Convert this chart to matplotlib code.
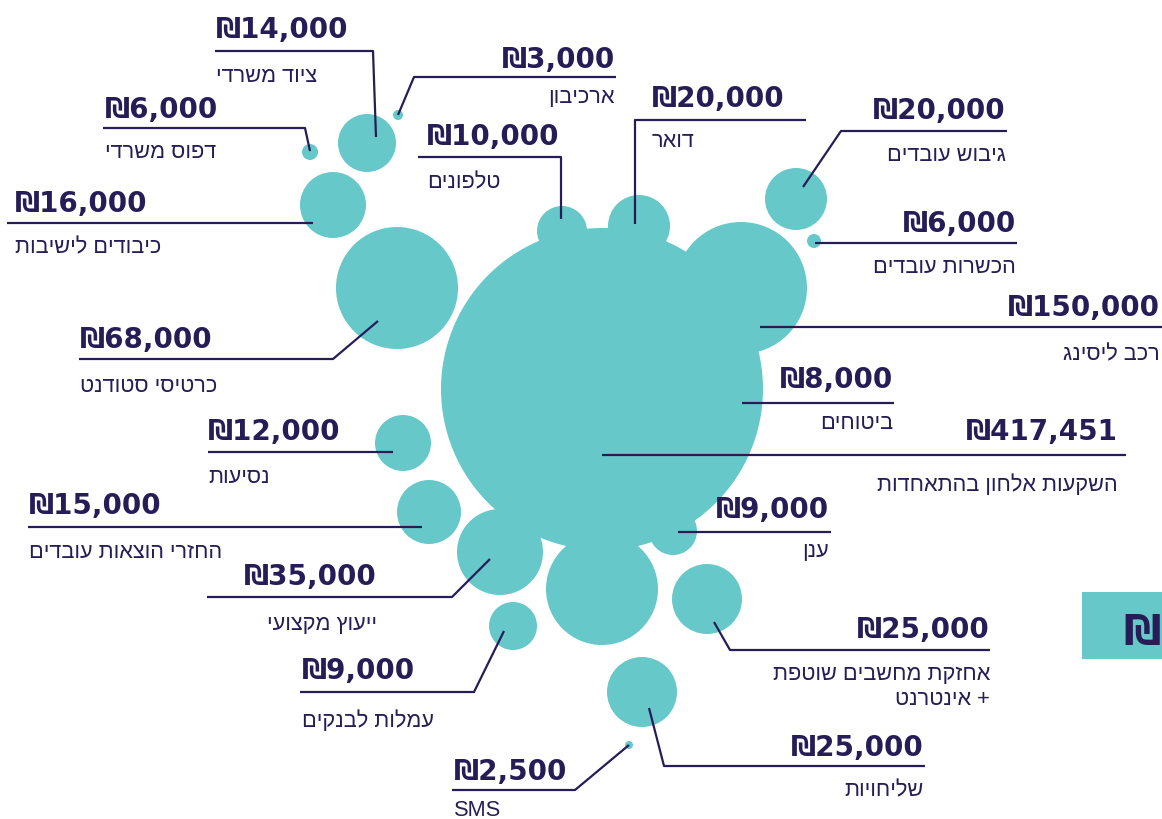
"""Bubble chart: annual expense breakdown (Hebrew labels, hand-placed layout)."""
import matplotlib
matplotlib.use("Agg")
import matplotlib.pyplot as plt
from matplotlib.patches import Circle, Rectangle

# ---- data -------------------------------------------------------------
categories = [
    "ציוד משרדי", "דפוס משרדי", "כיבודים לישיבות", "ארכיבון", "טלפונים",
    "דואר", "גיבוש עובדים", "הכשרות עובדים", "רכב ליסינג", "כרטיסי סטודנט",
    "ביטוחים", "השקעות אלחון בהתאחדות", "נסיעות", "החזרי הוצאות עובדים", "ענן",
    "ייעוץ מקצועי", "אחזקת מחשבים שוטפת\n+ אינטרנט", "עמלות לבנקים",
    "שליחויות", "SMS",
]
amounts = [
    14000, 6000, 16000, 3000, 10000,
    20000, 20000, 6000, 150000, 68000,
    8000, 417451, 12000, 15000, 9000,
    35000, 25000, 9000, 25000, 2500,
]

# ---- layout (pixels, hand-placed like the original infographic) ------
bubble_xy = [
    (367, 144), (310, 153), (333, 206), (398, 116), (562, 232),
    (639, 227), (796, 200), (814, 242), (741, 289), (397, 289),
    (729, 399), (602, 390), (403, 444), (429, 513), (673, 532),
    (500, 553), (707, 600), (513, 627), (642, 693), (629, 746),
]
bubble_r = [29, 8, 33, 5, 25, 31, 31, 7, 66, 61,
            23, 161, 28, 32, 24, 43, 35, 24, 35, 4]
leaders = [
    [(215, 52), (373, 52), (376, 138)],
    [(103, 129), (305, 129), (310, 152)],
    [(7, 224), (313, 224)],
    [(398, 116), (414, 78), (616, 78)],
    [(418, 158), (561, 158), (561, 220)],
    [(806, 121), (635, 121), (635, 225)],
    [(803, 188), (841, 132), (1007, 132)],
    [(815, 244), (1017, 244)],
    [(760, 328), (1162, 328)],
    [(79, 360), (333, 360), (378, 322)],
    [(742, 404), (894, 404)],
    [(602, 456), (1126, 456)],
    [(208, 453), (393, 453)],
    [(28, 528), (422, 528)],
    [(678, 533), (831, 533)],
    [(207, 598), (452, 598), (490, 560)],
    [(714, 623), (730, 651), (990, 651)],
    [(300, 693), (474, 693), (504, 632)],
    [(649, 709), (664, 767), (925, 767)],
    [(629, 746), (575, 791), (452, 791)],
]
# text anchor x, alignment, baseline of amount, baseline of category
text_x = [216, 105, 15, 615, 427, 652, 1006, 1016, 1160, 80,
          893, 1118, 208, 29, 829, 377, 990, 302, 924, 454]
text_ha = ["left", "left", "left", "right", "left", "left", "right", "right",
           "right", "left", "right", "right", "left", "left", "right", "right",
           "right", "left", "right", "left"]
amount_y = [38, 118, 212, 68, 145, 107, 119, 232, 316, 348,
            388, 440, 440, 514, 518, 585, 638, 679, 756, 780]
label_y = [82, 158, 253, 103, 188, 147, 161, 273, 360, 392,
           429, 491, 483, 558, 557, 630, 680, 727, 796, 816]
extra_bubble = (602, 590, 56)  # decorative, unlabelled

TEAL = "#67C8C9"
NAVY = "#261D56"
W, H = 1162, 820


def rtl(s):
    # matplotlib has no bidi support: put Hebrew into visual order
    if any("\u0590" <= ch <= "\u05ff" for ch in s):
        return s[::-1]
    return s


fig = plt.figure(figsize=(W / 100, H / 100), dpi=100)
ax = fig.add_axes([0, 0, 1, 1])
ax.set_xlim(0, W)
ax.set_ylim(H, 0)
ax.axis("off")

for (x, y), r in zip(bubble_xy, bubble_r):
    ax.add_patch(Circle((x, y), r, color=TEAL, lw=0, zorder=1))
ax.add_patch(Circle(extra_bubble[:2], extra_bubble[2], color=TEAL, lw=0, zorder=1))

for pts in leaders:
    xs, ys = zip(*pts)
    ax.plot(xs, ys, color=NAVY, lw=1.6, solid_capstyle="butt", zorder=2)

val_font = dict(family=["DejaVu Sans"], fontweight="bold",
                fontsize=20, color=NAVY)
lab_font = dict(family=["Liberation Sans", "DejaVu Sans"], fontweight="normal",
                fontsize=15.7, color=NAVY)

for i, (cat, amt) in enumerate(zip(categories, amounts)):
    ax.text(text_x[i], amount_y[i], f"\u20aa{amt:,}", ha=text_ha[i],
            va="baseline", zorder=3, **val_font)
    for j, line in enumerate(cat.split("\n")):
        ax.text(text_x[i], label_y[i] + 25 * j, rtl(line), ha=text_ha[i],
                va="baseline", zorder=3, **lab_font)

# corner tab with the shekel sign, cut by the right edge
ax.add_patch(Rectangle((1082, 593), 80, 67, color=TEAL, lw=0, zorder=1))
ax.text(1123, 645, "\u20aa", ha="left", va="baseline", zorder=3,
        family=["DejaVu Sans"], fontweight="bold", fontsize=30, color=NAVY)

fig.savefig("out.png", dpi=100)
